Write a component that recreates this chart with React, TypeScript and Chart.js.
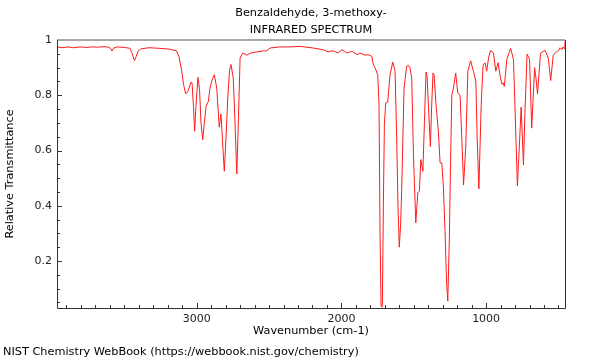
import React, { useEffect, useRef } from 'react';
import { Chart, registerables } from 'chart.js';

Chart.register(...registerables);

const TITLE_LINES = ['Benzaldehyde, 3-methoxy-', 'INFRARED SPECTRUM'];
const X_LABEL = 'Wavenumber (cm-1)';
const Y_LABEL = 'Relative Transmittance';
const FOOTER = 'NIST Chemistry WebBook (https://webbook.nist.gov/chemistry)';
const X_MAJOR = [1000, 2000, 3000];
const Y_MAJOR = [0.2, 0.4, 0.6, 0.8, 1];

const WAVENUMBER = [
  3965, 3930, 3890, 3850, 3806, 3760, 3720, 3680, 3640, 3610,
  3595, 3585, 3575, 3550, 3500, 3460, 3445, 3430, 3418, 3405,
  3385, 3330, 3260, 3190, 3140, 3122, 3103, 3091, 3076, 3060,
  3039, 3032, 3022, 3014, 3005, 2991, 2980, 2970, 2958, 2947,
  2935, 2919, 2908, 2894, 2878, 2861, 2852, 2844, 2832, 2823,
  2809, 2797, 2785, 2773, 2763, 2747, 2735, 2723, 2712, 2700,
  2682, 2654, 2631, 2585, 2548, 2516, 2493, 2424, 2355, 2286,
  2196, 2127, 2092, 2058, 2023, 1996, 1961, 1927, 1892, 1871,
  1837, 1816, 1790, 1779, 1767, 1749, 1740, 1733, 1726, 1717,
  1710, 1703, 1694, 1680, 1664, 1645, 1629, 1618, 1609, 1600,
  1591, 1583, 1567, 1549, 1536, 1526, 1514, 1502, 1486, 1472,
  1461, 1451, 1437, 1426, 1415, 1408, 1399, 1385, 1377, 1367,
  1360, 1346, 1330, 1318, 1306, 1295, 1284, 1273, 1265, 1254,
  1246, 1237, 1226, 1210, 1196, 1180, 1168, 1156, 1141, 1126,
  1107, 1088, 1071, 1062, 1050, 1034, 1021, 1007, 996, 983,
  969, 949, 933, 917, 899, 890, 883, 874, 857, 831,
  811, 800, 784, 772, 758, 742, 731, 717, 700, 685,
  665, 655, 645, 624, 593, 570, 554, 536, 512, 500,
  489, 477, 468, 460, 456, 455,
];

const TRANSMITTANCE = [
  0.975, 0.972, 0.975, 0.972, 0.975, 0.973, 0.975, 0.974, 0.976, 0.974,
  0.970, 0.960, 0.970, 0.975, 0.973, 0.970, 0.950, 0.925, 0.940, 0.960,
  0.968, 0.972, 0.970, 0.967, 0.961, 0.940, 0.887, 0.840, 0.805, 0.815,
  0.848, 0.845, 0.760, 0.670, 0.760, 0.865, 0.820, 0.700, 0.639, 0.700,
  0.760, 0.778, 0.826, 0.855, 0.874, 0.826, 0.750, 0.684, 0.732, 0.650,
  0.525, 0.650, 0.790, 0.890, 0.911, 0.862, 0.700, 0.515, 0.700, 0.935,
  0.953, 0.945, 0.952, 0.957, 0.960, 0.961, 0.971, 0.975, 0.975, 0.977,
  0.971, 0.965, 0.957, 0.961, 0.953, 0.965, 0.953, 0.959, 0.947, 0.953,
  0.945, 0.947, 0.941, 0.910, 0.899, 0.874, 0.766, 0.300, 0.035, 0.035,
  0.400, 0.694, 0.772, 0.775, 0.874, 0.920, 0.887, 0.646, 0.400, 0.250,
  0.330, 0.465, 0.826, 0.905, 0.908, 0.899, 0.863, 0.585, 0.338, 0.447,
  0.453, 0.567, 0.525, 0.706, 0.884, 0.870, 0.766, 0.615, 0.750, 0.881,
  0.875, 0.766, 0.670, 0.555, 0.555, 0.465, 0.308, 0.120, 0.055, 0.284,
  0.550, 0.802, 0.826, 0.880, 0.808, 0.800, 0.646, 0.475, 0.609, 0.887,
  0.925, 0.887, 0.851, 0.646, 0.461, 0.766, 0.910, 0.917, 0.887, 0.935,
  0.962, 0.953, 0.887, 0.918, 0.857, 0.840, 0.845, 0.832, 0.930, 0.970,
  0.930, 0.750, 0.472, 0.600, 0.757, 0.548, 0.750, 0.949, 0.930, 0.681,
  0.900, 0.860, 0.805, 0.952, 0.963, 0.934, 0.853, 0.946, 0.958, 0.962,
  0.972, 0.965, 0.975, 0.968, 0.970, 0.995,
];

const X_MIN = 455;
const X_MAX = 3965;
const Y_MIN = 0.03;
const Y_MAX = 1;

const FONT = '"DejaVu Sans", sans-serif';
const TEXT_SIZE = 11.3;

const decorPlugin = {
  id: 'decor',
  afterDraw(chart: any) {
    const { ctx, chartArea: a, scales } = chart;
    const xs = scales.x;
    const ys = scales.y;
    ctx.save();
    // top border
    ctx.strokeStyle = '#a8a8a8';
    ctx.lineWidth = 2;
    ctx.beginPath();
    ctx.moveTo(a.left, a.top);
    ctx.lineTo(a.right, a.top);
    ctx.stroke();
    // left, bottom, right
    ctx.strokeStyle = '#333333';
    ctx.lineWidth = 1;
    ctx.beginPath();
    ctx.moveTo(a.left + 0.5, a.top);
    ctx.lineTo(a.left + 0.5, a.bottom + 0.5);
    ctx.lineTo(a.right + 0.5, a.bottom + 0.5);
    ctx.lineTo(a.right + 0.5, a.top);
    ctx.stroke();
    // x ticks (inward)
    ctx.beginPath();
    for (let v = 500; v <= 3900; v += 100) {
      const px = Math.round(xs.getPixelForValue(v)) + 0.5;
      const len = v % 1000 === 0 ? 5 : 3;
      ctx.moveTo(px, a.bottom);
      ctx.lineTo(px, a.bottom - len);
    }
    // y ticks (inward)
    for (let i = 1; i <= 19; i++) {
      const v = i * 0.05;
      const py = Math.round(ys.getPixelForValue(v)) + 0.5;
      const len = i % 4 === 0 ? 5 : 3;
      ctx.moveTo(a.left, py);
      ctx.lineTo(a.left + len, py);
    }
    ctx.stroke();
    // titles
    ctx.fillStyle = '#000000';
    ctx.font = TEXT_SIZE + 'px ' + FONT;
    ctx.textAlign = 'center';
    ctx.textBaseline = 'middle';
    const cx = (a.left + a.right) / 2;
    ctx.fillText(TITLE_LINES[0], cx, 13);
    ctx.fillText(TITLE_LINES[1], cx, 30);
    ctx.textAlign = 'left';
    ctx.fillText(FOOTER, 3, 352);
    ctx.restore();
  },
};

export default function App() {
  const canvasRef = useRef<HTMLCanvasElement | null>(null);

  useEffect(() => {
    document.body.style.margin = '0';
    const canvas = canvasRef.current;
    if (!canvas) return;
    const n = Math.min(WAVENUMBER.length, TRANSMITTANCE.length);
    const points = [];
    for (let i = 0; i < n; i++) points.push({ x: WAVENUMBER[i], y: TRANSMITTANCE[i] });

    const chart = new Chart(canvas, {
      type: 'line',
      data: {
        datasets: [
          {
            data: points,
            borderColor: '#ff1a1a',
            borderWidth: 1,
            pointRadius: 0,
            tension: 0,
            fill: false,
          },
        ],
      },
      options: {
        animation: false,
        responsive: false,
        layout: { padding: { top: 40, right: 35, left: 0, bottom: 0 } },
        plugins: {
          legend: { display: false },
          tooltip: { enabled: false },
          title: { display: false },
        },
        scales: {
          x: {
            type: 'linear',
            min: X_MIN,
            max: X_MAX,
            reverse: true,
            grid: { display: false, drawTicks: false },
            border: { display: false },
            afterFit: (s: any) => {
              s.height = 52;
            },
            afterBuildTicks: (s: any) => {
              s.ticks = X_MAJOR.map((v) => ({ value: v }));
            },
            ticks: {
              padding: 5,
              color: '#222222',
              font: { family: FONT, size: 11 },
              maxRotation: 0,
              autoSkip: false,
              callback: (v: any) => String(v),
            },
            title: {
              display: true,
              text: X_LABEL,
              color: '#000000',
              font: { family: FONT, size: TEXT_SIZE },
              padding: { top: 0, bottom: 22 },
            },
          },
          y: {
            type: 'linear',
            min: Y_MIN,
            max: Y_MAX,
            grid: { display: false, drawTicks: false },
            border: { display: false },
            afterFit: (s: any) => {
              s.width = 57;
            },
            afterBuildTicks: (s: any) => {
              s.ticks = Y_MAJOR.map((v) => ({ value: v }));
            },
            ticks: {
              padding: 5,
              color: '#222222',
              font: { family: FONT, size: 11 },
              autoSkip: false,
              callback: (v: any) => String(Math.round(Number(v) * 10) / 10),
            },
            title: {
              display: true,
              text: Y_LABEL,
              color: '#000000',
              font: { family: FONT, size: TEXT_SIZE },
              padding: { top: 3, bottom: 0 },
            },
          },
        },
      },
      plugins: [decorPlugin],
    });
    return () => chart.destroy();
  }, []);

  return (
    <div style={{ position: 'absolute', left: 0, top: 0, width: 600, height: 360 }}>
      <canvas ref={canvasRef} width={600} height={360} style={{ width: 600, height: 360 }} />
    </div>
  );
}
